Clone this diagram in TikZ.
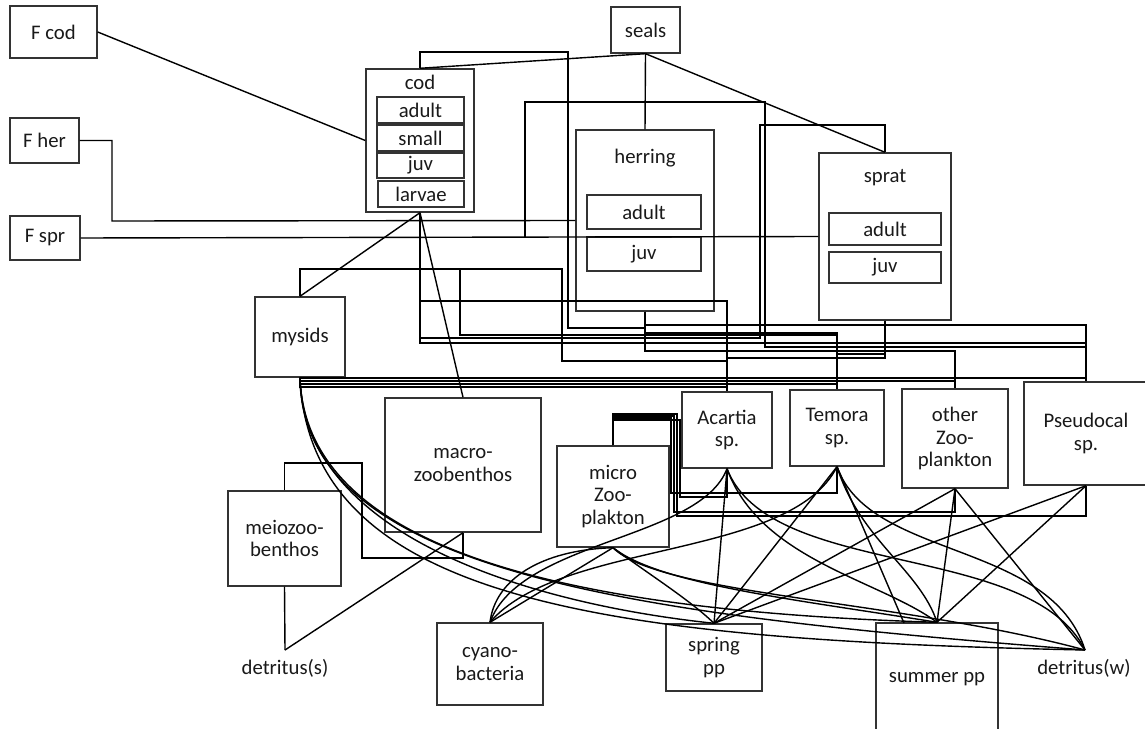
\documentclass[tikz,border=0pt]{standalone}
\usepackage{fontspec}
\setmainfont{Carlito}
\begin{document}
\begin{tikzpicture}[
        x=0.02cm, y=-0.02cm,
        box/.style = {draw=black!80, inner sep=0pt, align=center},
        wh/.style 2 args = {minimum width=#1*0.02cm, minimum height=#2*0.02cm},
        lbl/.style = {inner sep=0pt, align=center},
        every node/.append style = {font=\fontsize{11.8}{13}\selectfont, text=black!90},
        line width=0.8pt
    ]
    \useasboundingbox (0,0) rectangle (1145,729);
    \clip (0,0) rectangle (1145,729);
    % fishery and seals
    \node[box,wh={87}{52}] (fcod) at (53.5,32) {F cod};
    \node[box,wh={69}{45}] (fher) at (44.5,140.5) {F her};
    \node[box,wh={70}{44}] (fspr) at (45,238) {F spr};
    \node[box,wh={69}{46}] (seals) at (645.5,30) {seals};
    % fish
    \node[box,wh={108}{143}] (cod) at (420,140.5) {};
    \node[lbl] at (420,82) {cod};
    \node[box,wh={87}{26}] (codadult) at (420.5,110) {adult};
    \node[box,wh={87}{26}] (codsmall) at (420.5,138) {small};
    \node[box,wh={87}{25}] (codjuv) at (420.5,165.5) {juv};
    \node[box,wh={86}{26}] (codlarvae) at (421,194) {larvae};
    \node[box,wh={138}{181}] (herring) at (645,220.5) {};
    \node[lbl] at (645,158) {herring};
    \node[box,wh={114}{34}] (heradult) at (644,212) {adult};
    \node[box,wh={114}{34}] (herjuv) at (644,254) {juv};
    \node[box,wh={132}{167}] (sprat) at (885,236.5) {};
    \node[lbl] at (885,178) {sprat};
    \node[box,wh={112}{32}] (spradult) at (885,229) {adult};
    \node[box,wh={112}{31}] (sprjuv) at (885,267.5) {juv};
    % invertebrates
    \node[box,wh={90}{80}] (mysids) at (300,337) {mysids};
    \node[box,wh={156}{134}] (macro) at (463,465) {macro-\\zoobenthos};
    \node[box,wh={113}{95}] (meio) at (284.5,538.5) {meiozoo-\\benthos};
    \node[box,wh={112}{101}] (micro) at (613,496.5) {micro\\Zoo-\\plakton};
    \node[box,wh={90}{76}] (acartia) at (727,430) {Acartia\\sp.};
    \node[box,wh={94}{76}] (temora) at (837,428) {Temora\\sp.};
    \node[box,wh={106}{99}] (otherzoo) at (955,438.5) {other\\Zoo-\\plankton};
    \node[box,wh={124}{103}] (pseudo) at (1086,433.5) {Pseudocal\\sp.};
    % primary producers and detritus
    \node[box,wh={106}{82}] (cyano) at (490,664) {cyano-\\bacteria};
    \node[box,wh={96}{67}] (springpp) at (714,657.5) {spring\\pp};
    \node[box,wh={122}{112}] (summerpp) at (937,679) {summer pp};
    \node[lbl] (detslbl) at (285,668) {detritus(s)};
    \node[lbl] (detwlbl) at (1084,668) {detritus(w)};
    \coordinate (dets) at (285,650);
    \coordinate (detw) at (1085,650);
    \coordinate (sprj) at (525,237);
    \coordinate (sumleft) at (904,623);

    % top links
    \draw (fcod.east) -- (cod.west);
    \draw (fher.east) -| (112,221) -- (herring.west);
    \draw (fspr.east) -- (sprat.west);
    \draw (seals.south) -- (cod.north);
    \draw (seals.south) -- (herring.north);
    \draw (seals.south) -- (sprat.north);
    \draw (cod.north) |- (568,52) |- (645,328) -- (herring.south);
    \draw (cod.south) |- (760,338) |- (885,125) -- (sprat.north);
    \draw (cod.south) |- (727,301) -- (acartia.north);
    \draw (cod.south) |- (1086,343) -- (pseudo.north);
    \draw (sprj) |- (765,102) |- (1086,347) -- (pseudo.north);
    \draw (cod.south) -- (mysids.north);
    \draw (cod.south) -- (macro.north);
    % herring and sprat to zooplankton
    \draw (herring.south) |- (727,351) -- (acartia.north);
    \draw (herring.south) |- (955,351) -- (otherzoo.north);
    \draw (herring.south) |- (1086,325) -- (pseudo.north);
    \draw (herring.south) |- (837,333) -- (temora.north);
    \draw (sprat.south) |- (727,358) -- (acartia.north);
    \draw (sprat.south) |- (837,354) -- (temora.north);
    % mysids
    \draw (mysids.north) |- (460,269) |- (837,335) -- (temora.north);
    \draw (mysids.north) |- (562,269) |- (727,361) -- (acartia.north);
    \draw (mysids.south) |- (1086,378) -- (pseudo.north);
    \draw (mysids.south) |- (955,381) -- (otherzoo.north);
    \draw (mysids.south) |- (837,384) -- (temora.north);
    \draw (mysids.south) |- (727,387) -- (acartia.north);
    \draw (mysids.south) .. controls (304,540) and (540,605) .. (springpp.north);
    \draw (mysids.south) .. controls (306,560) and (600,612) .. (summerpp.north);
    \draw (mysids.south) .. controls (310,600) and (600,640) .. (detw);
    \draw (mysids.south) .. controls (302,575) and (640,615) .. (detw);
    % microzooplankton
    \draw (micro.north) |- (671,418) |- (837,493) -- (temora.south);
    \draw (micro.north) |- (674,416) |- (955,512) -- (otherzoo.south);
    \draw (micro.north) |- (677,414) |- (1086,516) -- (pseudo.south);
    \draw (micro.north) |- (680,420) |- (727,497) -- (acartia.south);
    \draw (micro.south) -- (cyano.north);
    \draw (micro.south) .. controls (540,550) and (495,580) .. (cyano.north);
    \draw (micro.south) .. controls (650,575) and (690,600) .. (springpp.north);
    \draw (micro.south) .. controls (660,585) and (800,600) .. (summerpp.north);
    \draw (micro.south) .. controls (660,595) and (900,600) .. (detw);
    % benthos
    \draw (meio.north) |- (362,463) |- (463,558) -- (macro.south);
    \draw (meio.south) -- (dets);
    \draw (dets) -- (macro.south);
    % zooplankton to food
    \draw (acartia.south) -- (springpp.north);
    \draw (acartia.south) .. controls (700,540) and (520,540) .. (cyano.north);
    \draw (acartia.south) .. controls (760,560) and (880,580) .. (summerpp.north);
    \draw (acartia.south) .. controls (770,580) and (1030,540) .. (detw);
    \draw (temora.south) -- (springpp.north);
    \draw (temora.south) -- (sumleft);
    \draw (temora.south) .. controls (790,560) and (560,540) .. (cyano.north);
    \draw (temora.south) .. controls (860,540) and (920,570) .. (summerpp.north);
    \draw (temora.south) .. controls (870,560) and (1050,540) .. (detw);
    \draw (otherzoo.south) -- (springpp.north);
    \draw (otherzoo.south) -- (summerpp.north);
    \draw (otherzoo.south) -- (detw);
    \draw (pseudo.south) -- (springpp.north);
    \draw (pseudo.south) -- (summerpp.north);
\end{tikzpicture}
\end{document}
